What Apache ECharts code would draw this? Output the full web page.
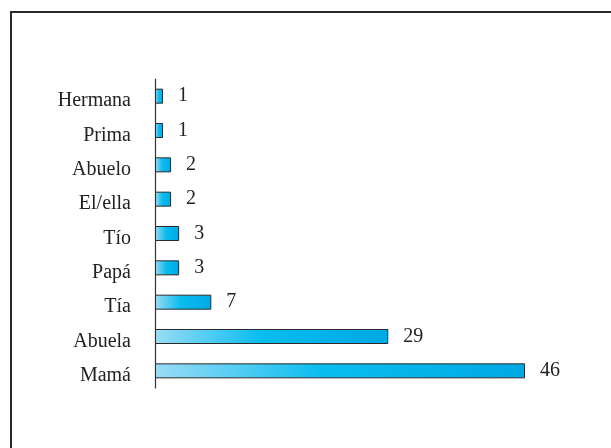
<!DOCTYPE html>
<html><head><meta charset="utf-8">
<script src="https://cdn.jsdelivr.net/npm/echarts@6/dist/echarts.min.js"></script>
<style>html,body{margin:0;padding:0;background:#fff}#c{width:611px;height:448px}</style>
</head><body><div id="c"></div>
<script>
const categories = ['Mamá','Abuela','Tía','Papá','Tío','El/ella','Abuelo','Prima','Hermana'];
const values = [46, 29, 7, 3, 3, 2, 2, 1, 1];

const chart = echarts.init(document.getElementById('c'), null, {renderer:'canvas'});
chart.setOption({
  animation: false,
  backgroundColor: '#fff',
  graphic: [{
    type: 'polyline',
    shape: { points: [[11, 448], [11, 12], [611, 12]] },
    style: { stroke: '#2b2b2b', lineWidth: 2, fill: null }
  }],
  grid: { left: 155, right: 86, top: 79, bottom: 60, containLabel: false },
  xAxis: { type: 'value', min: 0, max: 46, show: false },
  yAxis: {
    type: 'category', data: categories,
    axisLine: { show: true, lineStyle: { color: '#333', width: 1.2 } },
    axisTick: { show: false },
    axisLabel: { margin: 24, formatter: '{a|{value}}',
      rich: { a: { color: '#222', fontFamily: 'Liberation Serif', fontSize: 20, padding: [10, 0, 0, 0] } } }
  },
  series: [{
    type: 'bar', data: values, barWidth: 15,
    itemStyle: {
      borderColor: '#2a2a2a', borderWidth: 1,
      color: new echarts.graphic.LinearGradient(0, 0, 1, 0, [
        { offset: 0, color: '#9adcf6' },
        { offset: 0.45, color: '#0abdf0' },
        { offset: 1, color: '#00a9e4' }
      ])
    },
    label: { show: true, position: 'right', distance: 15, color: '#222',
      fontFamily: 'Liberation Serif', fontSize: 20 }
  }]
});
</script></body></html>
